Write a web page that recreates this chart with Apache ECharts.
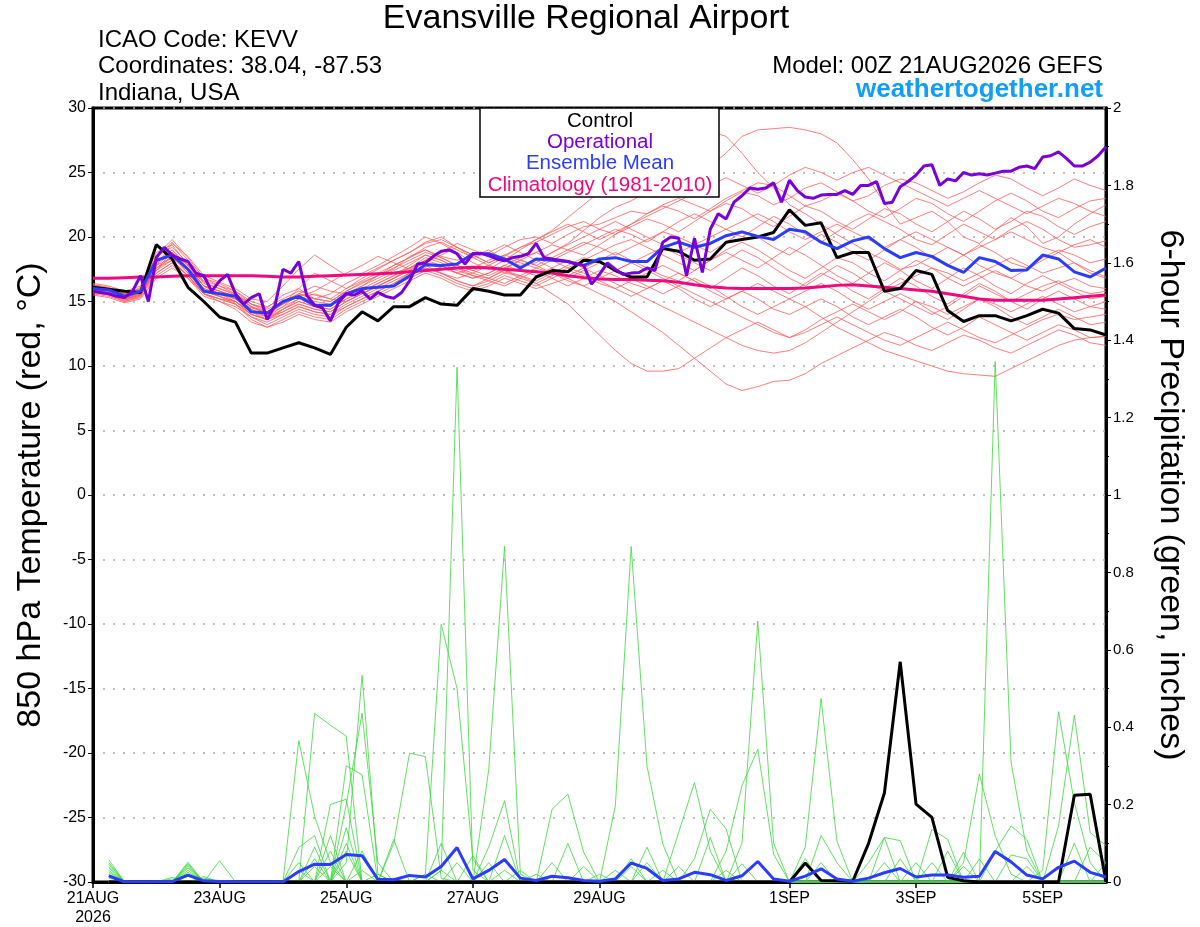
<!DOCTYPE html>
<html>
<head>
<meta charset="utf-8">
<title>Evansville Regional Airport</title>
<script src="https://cdn.jsdelivr.net/npm/echarts@6/dist/echarts.min.js"></script>
<style>
html, body { margin: 0; padding: 0; background: #fff; }
#main { width: 1200px; height: 927px; }
</style>
</head>
<body>
<div id="main"></div>
<script>
var FONT = "'Liberation Sans', Arial, sans-serif";

// x axis: 6-hourly steps from 00Z 21AUG2026
var tickIdx = [0, 8, 16, 24, 32, 44, 52, 60];
var tickLabels = ['21AUG\n2026', '23AUG', '25AUG', '27AUG', '29AUG', '1SEP', '3SEP', '5SEP'];

// 850 hPa temperature (C), 6-hourly, 65 steps
var controlTemp = [16.1,15.95,15.8,15.7,19.4,18.3,16.1,15.0, 13.8,13.4,11.0,11.0,11.4,11.8,11.4,10.9,
  13.0,14.2,13.5,14.6,14.6,15.3,14.8,14.7, 16.0,15.8,15.5,15.5,16.9,17.4,17.3,18.2,
  18.1,17.4,16.9,16.9,19.1,18.9,18.2,18.3, 19.6,19.8,20.0,20.35,22.1,20.9,21.1,18.4,
  18.8,18.8,15.8,16.0,17.4,17.1,14.3,13.45, 13.9,13.9,13.5,13.9,14.4,14.1,12.9,12.8, 12.4];

var meanTemp = [16.0,15.9,15.4,15.8,18.2,18.6,17.5,15.8, 15.6,15.4,14.2,14.1,15.0,15.4,14.7,14.7,
  15.6,16.0,16.1,16.2,17.0,17.85,17.8,17.9, 18.7,18.7,18.3,17.6,18.3,18.2,18.1,17.8,
  18.3,18.4,18.1,18.1,19.2,19.6,19.2,19.5, 20.1,20.4,20.05,19.8,20.6,20.4,19.6,19.1,
  19.7,20.0,19.1,18.4,18.8,18.5,17.8,17.25, 18.4,18.1,17.4,17.45,18.6,18.3,17.3,16.9, 17.6];

var climTemp = [16.8,16.8,16.85,16.9,16.9,16.95,17.0,17.0, 17.0,17.0,17.0,16.95,16.9,16.9,16.95,17.0,
  17.05,17.1,17.15,17.2,17.3,17.4,17.5,17.6, 17.65,17.6,17.5,17.4,17.3,17.2,17.0,16.85,
  16.75,16.7,16.7,16.65,16.6,16.5,16.3,16.15, 16.05,16.0,16.0,16.0,16.0,16.05,16.15,16.25,
  16.3,16.2,16.1,16.0,15.9,15.8,15.6,15.4, 15.2,15.1,15.1,15.1,15.1,15.2,15.3,15.4, 15.5];

// operational run, 3-hourly, 129 steps
var operTemp = [15.8,15.7,15.6,15.4,15.3,15.8,17.0,15.0, 18.4,19.2,18.6,18.3,18.1,17.2,17.0,15.8,
  16.6,17.1,15.6,14.8,15.3,15.6,13.6,14.7, 17.5,17.2,18.1,15.5,14.7,14.5,13.5,14.9,
  15.6,15.5,15.8,15.2,15.7,15.4,15.25,15.7, 16.6,17.9,18.0,18.5,18.9,19.0,18.7,17.9,
  18.7,18.75,18.55,18.3,18.15,18.4,18.5,18.7, 19.5,18.4,18.3,18.2,18.1,17.9,17.8,16.35,
  17.1,18.0,17.5,17.1,17.2,17.25,17.6,17.4, 19.6,20.0,19.9,17.0,19.9,17.25,20.6,21.8,
  21.4,22.7,23.2,23.8,23.7,23.8,24.2,22.7, 24.4,23.6,23.1,23.0,23.25,23.3,23.3,23.6,
  23.3,24.0,24.0,24.3,22.6,22.7,23.9,24.3, 24.8,25.5,25.6,24.0,24.5,24.35,25.0,24.8,
  24.9,24.8,24.95,25.1,25.1,25.4,25.5,25.3, 26.2,26.3,26.6,26.1,25.5,25.5,25.8,26.3, 27.0];

// ensemble members, 6-hourly, 65 steps
var memberTemp = [
  [16.2,16.0,15.6,16.0,18.5,19.2,18.0,16.5, 16.0,15.5,14.8,14.5,15.5,16.0,15.2,15.0, 15.8,16.5,17.0,17.5,18.5,19.0,18.5,18.2, 18.5,19.0,18.2,17.8,18.0,18.8,19.5,20.5, 21.5,22.3,22.8,23.5,24.0,24.6,25.0,25.5, 26.5,27.8,28.3,28.4,28.5,28.3,28.0,27.3, 26.0,24.5,22.6,21.0,21.5,22.0,21.2,20.0, 19.5,20.5,21.5,20.8,19.5,20.0,21.0,21.8, 22.5],
  [15.8,15.6,15.2,15.5,17.8,19.5,18.5,17.0, 16.5,16.0,15.2,15.0,16.2,17.5,18.6,17.8, 17.0,17.2,17.8,18.5,19.2,20.0,19.5,18.8, 18.0,17.5,18.2,19.0,19.8,20.5,21.5,22.5, 23.5,24.5,25.5,26.2,27.0,27.6,28.0,28.2, 27.8,26.5,25.0,23.8,22.5,21.8,21.0,20.2, 19.5,18.8,18.2,17.5,17.8,18.5,19.2,18.6, 17.8,17.2,16.8,17.5,18.2,18.8,18.0,17.2, 16.8],
  [16.0,15.8,15.4,15.6,18.0,19.0,17.6,16.2, 15.8,15.2,14.5,14.2,14.8,15.4,15.8,16.5, 17.2,17.8,18.5,18.0,17.5,18.2,18.8,19.5, 19.0,18.5,19.2,19.8,20.0,19.5,20.2,20.8, 21.0,21.5,22.0,21.8,22.5,23.0,22.5,22.0, 22.8,23.5,23.2,22.5,23.0,23.8,24.2,23.5, 22.8,23.2,24.0,24.5,24.2,23.6,23.0,23.5, 24.2,24.8,24.5,23.8,23.2,23.8,24.5,24.0, 23.6],
  [15.9,15.7,15.3,15.7,17.5,18.8,17.8,16.6, 16.2,15.8,15.0,14.6,15.2,15.8,15.5,15.2, 16.0,16.8,17.5,18.2,18.8,19.5,19.8,19.2, 18.6,18.0,18.5,19.2,19.6,20.2,20.8,21.2, 20.6,20.2,21.0,21.8,22.4,22.0,21.4,22.2, 23.0,23.6,24.2,24.0,23.2,22.4,22.8,23.4, 22.8,22.0,21.5,22.2,23.0,22.6,21.8,21.2, 22.0,22.8,23.4,22.8,22.0,21.5,22.2,22.8, 23.0],
  [16.3,16.1,15.5,16.1,18.2,18.6,17.2,15.8, 15.4,15.0,14.0,13.6,14.4,15.0,14.6,14.4, 15.2,15.8,16.4,17.0,17.8,18.6,18.2,17.6, 17.0,16.8,17.5,18.2,18.8,19.4,19.0,18.6, 19.4,20.2,20.8,21.4,21.0,20.4,21.2,22.0, 22.6,22.2,21.4,20.8,21.6,22.4,22.0,21.2, 20.6,21.4,22.2,21.8,21.0,20.4,21.2,22.0, 21.4,20.6,21.2,22.0,21.6,20.8,20.2,20.8, 21.2],
  [15.7,15.5,15.0,15.4,17.2,18.0,17.0,15.6, 15.2,15.0,14.2,13.8,14.6,15.6,16.2,15.8, 15.6,16.2,17.0,17.8,18.4,19.0,18.4,17.8, 17.4,17.8,18.4,18.0,17.6,18.2,18.8,19.4, 20.0,20.6,20.2,19.6,20.4,21.2,21.8,21.2, 20.6,20.0,20.8,21.6,21.0,20.2,19.6,20.4, 21.2,21.8,21.2,20.6,19.8,19.4,20.2,21.0, 20.4,19.8,20.6,21.2,20.6,19.8,19.2,19.4, 19.7],
  [16.0,15.9,15.6,15.9,18.4,19.6,18.2,16.8, 16.2,15.6,14.6,14.0,14.6,15.2,14.8,14.6, 15.4,16.0,16.6,17.2,17.6,18.0,17.6,17.2, 17.6,18.2,18.6,18.2,17.8,18.4,19.0,19.6, 19.2,18.6,19.2,19.8,20.4,20.0,19.4,18.8, 19.6,20.4,20.0,19.2,18.6,19.4,20.2,19.6, 18.8,18.2,19.0,19.8,19.2,18.4,17.8,18.6, 19.4,18.8,18.0,17.6,18.4,19.0,18.6,18.0, 18.3],
  [16.1,15.8,15.2,15.6,17.6,18.4,17.4,16.0, 15.6,15.2,14.4,13.8,14.2,14.8,14.4,14.2, 15.0,15.6,16.2,16.8,17.4,18.0,17.8,17.2, 16.8,17.2,17.8,18.4,18.8,18.2,17.6,18.2, 18.8,19.4,19.8,19.2,18.6,18.0,17.4,18.2, 19.0,19.6,19.0,18.2,17.4,16.8,17.6,18.4, 18.0,17.2,16.6,17.4,18.2,17.6,16.8,16.2, 16.8,17.4,16.8,16.2,15.8,16.4,16.8,16.2, 16.0],
  [15.6,15.4,15.0,15.3,17.0,17.8,16.8,15.4, 15.0,14.6,13.8,13.4,14.0,14.6,14.2,14.0, 14.8,15.4,16.0,16.6,17.2,17.6,17.2,16.6, 16.2,16.6,17.2,17.0,16.6,17.2,17.8,18.4, 18.0,17.4,18.0,18.6,19.2,18.6,18.0,17.4, 18.2,19.0,18.4,17.6,16.8,16.2,17.0,17.8, 17.2,16.4,15.8,15.2,14.6,14.0,14.6,15.4, 16.2,15.6,15.0,15.6,16.2,16.6,16.0,15.6, 15.8],
  [16.4,16.2,15.8,16.2,18.8,19.4,17.8,16.2, 15.8,15.4,14.6,14.2,15.0,15.6,15.2,15.6, 16.4,17.0,17.6,18.2,18.8,19.6,20.0,19.2, 18.4,17.8,17.2,17.6,18.2,17.6,17.0,17.6, 18.2,18.8,18.2,17.6,17.0,16.6,17.4,18.2, 18.8,18.2,17.6,18.4,19.2,18.6,17.8,17.0, 16.4,17.2,18.0,17.4,16.6,16.0,16.8,17.6, 17.0,16.2,15.6,16.4,17.0,16.4,15.8,15.2, 15.4],
  [15.8,15.6,15.2,15.5,17.4,18.2,17.0,15.6, 15.0,14.4,13.4,13.0,13.6,14.2,13.8,13.6, 14.4,15.0,15.6,16.2,16.8,17.4,17.0,16.4, 16.0,16.4,17.0,16.6,16.2,16.8,17.4,17.0, 16.4,16.0,16.6,17.2,17.8,17.2,16.6,16.0, 16.8,17.6,17.0,16.2,15.6,16.4,17.2,16.6, 15.8,15.2,16.0,16.8,16.2,15.4,14.8,15.6, 16.4,15.8,15.0,14.4,15.2,15.8,15.2,14.6, 14.4],
  [16.0,15.7,15.1,15.4,17.8,18.8,17.6,16.2, 15.6,15.0,14.0,13.6,14.4,15.2,15.6,15.2, 15.0,15.6,16.2,16.8,17.6,18.4,18.0,17.4, 17.0,16.6,16.2,16.8,17.4,16.8,16.2,16.8, 17.4,17.0,16.4,16.0,16.6,17.2,16.6,15.8, 15.2,15.8,16.4,15.8,15.2,15.8,16.4,15.8, 15.0,14.4,15.0,15.6,15.0,14.2,13.6,14.4, 15.2,14.6,13.8,13.2,13.8,14.4,13.8,13.2, 13.4],
  [15.5,15.3,14.9,15.2,16.8,17.6,16.8,15.6, 15.2,14.8,13.8,13.2,13.8,14.4,14.0,13.8, 14.6,15.2,15.8,16.4,17.0,17.6,17.2,16.8, 17.2,17.8,17.4,16.8,16.4,17.0,17.6,17.2, 16.6,16.0,15.4,16.0,16.6,16.0,15.2,14.6, 15.2,15.8,15.2,14.4,14.0,14.6,15.2,14.6, 13.8,13.2,13.8,14.4,13.8,13.0,12.4,13.0, 13.8,13.2,12.6,12.0,12.6,13.2,12.8,12.2, 12.3],
  [16.2,16.0,15.6,15.8,17.8,18.4,17.2,15.8, 15.4,15.0,14.2,13.6,14.0,14.6,14.2,14.0, 14.6,15.2,15.8,16.4,17.2,17.8,17.2,16.6, 16.2,16.8,17.4,17.0,16.4,15.6,14.8,13.6, 12.4,11.2,10.2,9.6,9.6,9.8,10.6,11.4, 12.2,12.8,13.4,12.8,12.2,12.8,13.6,14.2, 14.8,14.2,13.6,14.2,15.0,14.6,14.0,14.6, 15.2,14.8,14.2,14.8,15.4,14.8,14.2,14.6, 15.0],
  [15.9,15.7,15.3,15.6,17.2,18.0,17.0,15.8, 15.4,14.8,13.6,13.0,13.4,14.0,13.6,13.4, 14.2,14.8,15.4,16.0,16.6,17.2,16.8,16.2, 15.8,16.2,16.8,16.4,16.0,16.4,16.8,16.2, 15.6,15.0,14.2,13.4,12.6,11.6,10.6,9.6, 8.6,8.1,8.4,8.8,8.9,9.4,10.2,10.8, 11.4,12.0,12.6,12.2,11.6,11.2,11.8,12.4, 12.0,11.4,11.0,11.6,12.2,12.8,12.4,11.8, 11.6],
  [16.1,15.9,15.4,15.7,18.0,19.0,17.8,16.4, 16.0,15.6,14.8,14.4,15.0,15.6,15.2,15.0, 15.8,16.4,17.0,17.6,18.2,18.8,18.4,17.8, 17.4,17.0,17.6,18.2,17.8,17.2,16.8,17.4, 18.0,17.4,16.8,16.2,15.6,16.2,16.8,16.2, 15.4,14.6,14.0,14.6,15.2,14.6,13.8,13.0, 12.4,11.8,11.2,10.8,10.4,10.0,9.6,9.4, 9.3,9.2,9.8,10.4,11.0,11.6,12.0,12.2, 12.3],
  [15.7,15.5,15.1,15.5,17.4,18.6,17.4,16.0, 15.6,15.2,14.4,13.8,14.4,15.0,14.6,14.4, 15.2,15.8,16.4,17.0,17.6,18.2,17.8,17.2, 16.8,17.2,17.8,17.4,17.0,17.6,18.2,17.6, 17.0,16.4,15.8,15.2,14.6,14.0,13.4,12.8, 12.2,11.6,11.2,11.0,11.2,11.8,12.6,13.4, 14.2,15.0,15.8,16.4,17.0,17.6,17.2,16.6, 17.2,17.8,18.4,17.8,17.2,17.6,18.0,17.4, 16.9],
  [16.3,16.0,15.5,15.9,18.6,19.8,18.4,16.8, 16.4,15.8,14.8,14.2,14.8,15.4,15.0,14.8, 15.6,16.2,16.8,17.4,18.0,18.6,18.2,17.6, 17.2,16.8,16.4,17.0,17.6,17.2,16.6,16.2, 16.8,17.4,18.0,17.4,16.8,16.2,15.6,15.0, 14.4,13.8,13.2,12.6,12.2,12.6,13.2,13.8, 13.2,12.6,12.0,11.6,12.2,12.8,13.4,12.8, 12.2,11.8,12.4,13.0,13.6,14.0,13.6,13.8, 14.0],
  [15.8,15.6,15.2,15.6,17.6,18.2,17.0,15.6, 15.2,14.8,14.0,13.6,14.2,14.8,14.4,14.2, 15.0,15.6,16.2,16.8,17.4,18.0,18.6,19.2, 18.6,18.0,18.6,19.2,19.8,20.4,21.0,20.4, 19.8,20.4,21.0,21.6,22.2,22.8,23.4,24.0, 24.6,24.0,23.4,24.0,24.8,25.4,25.0,24.4, 25.0,25.4,24.8,24.2,23.6,23.0,22.4,23.0, 23.6,23.0,22.4,21.8,22.4,23.0,22.6,22.0, 21.6],
  [16.0,15.8,15.3,15.8,18.0,18.8,17.6,16.2, 15.8,15.4,14.6,14.0,14.8,16.0,17.2,16.6, 16.0,16.6,17.2,17.8,18.4,19.2,19.6,19.0, 18.4,18.8,19.4,18.8,18.2,18.8,19.4,20.0, 20.6,21.2,20.6,20.0,19.4,18.8,19.4,20.0, 20.6,21.2,21.8,21.2,20.4,19.8,20.4,21.0, 20.4,19.8,19.2,19.8,20.4,19.8,19.2,18.6, 19.2,19.8,20.4,19.8,19.2,18.8,19.4,19.8, 19.2]
];

// 6-hour precipitation (inches), steps 1..64
var controlPrcp = [0,0,0,0,0,0,0,0, 0,0,0,0,0,0,0,0, 0,0,0,0,0,0,0,0, 0,0,0,0,0,0,0,0,
  0,0,0,0,0,0,0,0, 0,0,0,0,.049,.004,.003,.002, .1,.23,.569,.201,.167,.012,.003,0, 0,0,0,0,0,.224,.227,0];

var meanPrcp = [.016,0,0,0,.001,.018,.003,.001, 0,0,0,0,.027,.046,.045,.071, .068,.007,.006,.017,.013,.04,.089,.008,
  .03,.058,.01,.004,.015,.011,.004,.002, .008,.049,.035,.004,.008,.025,.019,.004, .016,.053,.008,.002,.015,.034,.008,.002,
  .01,.024,.035,.013,.018,.018,.012,.015, .079,.052,.018,.008,.038,.054,.025,.013];

var memberPrcp = [
  [.057,0,0,0,0,.051,0,0, 0,0,0,0,0,0,.04,0, 0,0,0,0,0,.1,0,0, 0,0,0,0,0,0,0,0, .03,0,0,0,0,0,0,0, 0,0,0,0,0,0,0,0, 0,.115,.107,0,0,0,0,0, 0,0,0,0,0,0,0,0],
  [.05,0,0,0,0,.047,0,0, 0,0,0,0,0,.04,0,0, 0,.02,0,0,0,0,0,0, 0,.03,0,0,0,0,0,0, 0,.06,0,0,0,0,0,0, 0,0,0,0,0,0,0,0, 0,.05,0,0,0,0,0,0, 0,0,0,0,0,0,0,0],
  [.046,0,0,0,.012,0,0,0, 0,0,0,0,.05,0,0,0, 0,0,.01,0,0,0,0,0, 0,0,0,0,0,0,0,0, 0,0,.09,0,0,0,0,0, 0,0,0,0,0,0,0,0, 0,0,.06,0,0,0,0,0, 0,0,0,0,0,0,0,0],
  [.04,0,0,0,0,.043,0,0, 0,0,0,0,0,0,0,.2, .436,.05,0,0,0,0,0,0, 0,0,0,0,0,0,0,0, 0,0,0,.03,0,0,0,0, 0,0,0,0,0,0,0,0, 0,0,0,.05,0,0,0,0, 0,0,0,0,0,0,0,0],
  [.036,0,0,0,0,.04,0,0, 0,0,0,0,0,.09,0,0, 0,0,0,0,0,0,0,0, 0,0,0,.02,0,0,0,0, 0,0,0,0,.04,0,0,0, 0,0,0,0,0,0,0,0, 0,0,0,0,.136,.11,0,0, 0,0,0,0,0,0,0,0],
  [.03,0,0,0,0,.036,0,0, 0,0,0,0,0,0,.12,0, 0,0,.11,0,0,0,0,0, .05,0,0,0,0,0,0,0, 0,0,0,0,0,0,.115,0, 0,0,0,0,0,0,0,0, 0,0,0,0,.05,0,.077,0, 0,0,0,0,0,0,0,0],
  [.025,0,0,0,.008,0,0,0, 0,0,0,0,.03,0,0,0, 0,0,.1,.333,.324,.01,0,0, 0,0,0,0,0,0,0,0, 0,0,0,0,0,0,0,.03, 0,0,0,0,0,0,0,0, 0,0,0,0,0,.08,0,0, 0,0,0,0,0,0,0,0],
  [.02,0,0,0,0,.03,0,0, 0,0,0,0,0,.06,0,0, 0,0,0,0,.02,.666,.5,.06, 0,0,0,0,0,0,0,0, 0,0,0,0,0,0,0,0, .047,0,0,0,0,0,0,0, 0,0,0,0,0,0,.04,0, 0,0,0,0,0,0,0,0],
  [.015,0,0,0,0,.025,0,0, 0,0,0,0,0,0,0,.14, 0,0,0,0,0,.03,0,0, 0,0,0,0,0,0,0,0, 0,.04,0,0,0,0,0,0, 0,0,0,0,.06,0,0,0, 0,0,0,0,0,0,.05,.279, .119,.02,0,0,0,0,0,0],
  [.01,0,0,0,0,0,.014,0, 0,0,0,0,0,0,.08,0, 0,0,0,0,0,.03,1.33,.03, 0,0,0,0,0,0,0,0, 0,0,.05,0,0,0,0,0, 0,0,0,0,0,.05,0,0, 0,0,0,0,0,0,0,.06, 0,0,0,0,0,0,0,0],
  [0,0,0,0,0,.02,0,0, 0,0,0,0,0,0,0,.1, 0,0,0,0,0,0,.05,0, .29,.867,.02,0,0,0,0,0, 0,0,0,0,0,0,0,0, 0,0,0,0,0,0,0,0, 0,0,0,0,0,0,0,0, 1.345,.31,.08,0,0,0,0,0],
  [0,0,0,0,0,.015,0,0, 0,0,0,0,0,0,0,.08, 0,0,0,0,.02,0,0,0, 0,0,0,0,.188,.227,.077,0, 0,0,0,0,0,0,0,0, 0,0,0,0,0,0,0,0, 0,0,0,0,0,0,0,0, .08,.145,.11,0,0,0,0,0],
  [0,0,0,0,0,0,.01,0, 0,0,0,0,0,0,0,0, .08,0,0,0,0,0,0,.068, 0,0,0,0,0,0,0,0, .197,.867,.3,.098,0,0,0,0, 0,0,0,0,0,0,0,0, 0,0,0,0,0,0,0,0, 0,.07,.06,0,0,0,0,0],
  [0,0,0,0,0,0,0,.055, 0,0,0,0,0,0,0,0, .03,0,0,0,0,0,0,0, .09,.21,0,0,0,0,0,0, 0,0,0,0,.128,.257,.08,0, 0,0,0,0,0,0,0,0, 0,0,0,0,0,0,0,0, 0,0,.04,0,0,0,0,0],
  [0,0,0,0,0,0,0,0, 0,0,0,0,.365,.17,.05,0, 0,0,0,0,0,0,0,0, 0,.12,0,0,0,0,0,0, 0,0,0,0,0,.06,.188,.137, 0,0,0,0,0,0,0,0, 0,0,0,0,0,0,0,0, 0,0,0,.03,.44,.205,.05,0],
  [0,0,0,0,0,0,0,0, 0,0,0,0,.089,.12,0,0, 0,0,0,0,0,0,0,0, 0,0,.03,0,0,0,0,0, 0,0,0,0,0,0,0,0, .1,.674,.1,0,0,0,0,0, 0,0,0,0,0,0,0,0, 0,0,0,0,0,.1,0,0],
  [0,0,0,0,0,0,0,0, 0,0,0,0,0,.436,.405,.377, 0,0,0,0,0,0,0,0, 0,0,0,0,.05,0,0,0, 0,0,0,0,0,0,0,.08, .249,.343,.072,0,0,0,0,0, 0,0,0,0,0,0,0,0, 0,0,0,0,.145,.431,.128,.094],
  [0,0,0,0,0,0,0,0, 0,0,0,0,0,0,.2,.214, 0,0,0,0,0,0,0,0, 0,0,0,0,0,.1,0,0, 0,0,0,0,0,0,0,0, 0,0,0,0,.09,.474,.106,0, 0,0,0,0,0,0,0,0, 0,0,0,0,0,0,.09,.05],
  [0,0,0,0,0,0,0,0, 0,0,0,0,0,0,0,.3, .277,0,0,0,0,0,0,0, 0,0,0,0,0,0,.04,0, 0,0,0,0,0,0,0,0, 0,0,0,0,0,.12,.05,0, 0,0,0,0,0,0,0,0, 0,0,0,0,0,0,0,.05],
  [0,0,0,0,0,0,0,0, 0,0,0,0,0,0,0,.05, .534,.02,0,0,0,0,0,0, 0,0,0,0,0,0,0,.02, 0,0,0,0,0,0,0,0, 0,0,0,0,0,0,0,0, .05,.115,0,0,0,0,0,0, 0,0,0,0,0,0,0,0]
];

function pairs(arr, start, step) {
  return arr.map(function (v, k) { return [start + k * step, v]; });
}

function line(data, color, width, yIdx, z) {
  return {
    type: 'line', data: data, yAxisIndex: yIdx, symbol: 'none', z: z,
    lineStyle: { color: color, width: width }, silent: true
  };
}

var series = [];
memberTemp.forEach(function (m) { series.push(line(pairs(m, 0, 1), '#ff5c5c', 0.8, 0, 2)); });
memberPrcp.forEach(function (m) { series.push(line(pairs(m, 1, 1), '#3ad83a', 0.8, 1, 2)); });
series.push(line(pairs(climTemp, 0, 1), '#f0087e', 3, 0, 3));
series.push(line(pairs(controlPrcp, 1, 1), '#000000', 3, 1, 3));
series.push(line(pairs(meanPrcp, 1, 1), '#2a3cff', 3, 1, 4));
series.push(line(pairs(controlTemp, 0, 1), '#000000', 3, 0, 4));
series.push(line(pairs(meanTemp, 0, 1), '#2a3cff', 3, 0, 5));
series.push(line(pairs(operTemp, 0, 0.5), '#7a00d8', 3, 0, 6));

var chart = echarts.init(document.getElementById('main'));

var option = {
  animation: false,
  backgroundColor: '#fff',
  textStyle: { fontFamily: FONT },
  grid: { left: 93, right: 94, top: 108, bottom: 44, show: true, borderColor: '#000', borderWidth: 3 },
  xAxis: {
    type: 'value', min: 0, max: 64,
    axisLine: { onZero: false, lineStyle: { color: '#000', width: 3 } },
    axisTick: { show: true, customValues: tickIdx, length: 6, lineStyle: { color: '#000', width: 1.5 } },
    axisLabel: {
      customValues: tickIdx, color: '#000', fontSize: 16, fontFamily: FONT, margin: 7, lineHeight: 19,
      formatter: function (v) { var k = tickIdx.indexOf(v); return k >= 0 ? tickLabels[k] : ''; }
    },
    splitLine: { show: false }
  },
  yAxis: [
    {
      type: 'value', min: -30, max: 30, interval: 5, position: 'left',
      name: '850 hPa Temperature (red, \u00B0C)', nameLocation: 'middle', nameGap: 45,
      nameTextStyle: { fontSize: 34, color: '#000', fontFamily: FONT },
      axisLine: { show: true, onZero: false, lineStyle: { color: '#000', width: 3 } },
      axisTick: { show: true, length: 5, lineStyle: { color: '#000' } },
      axisLabel: { color: '#000', fontSize: 16, fontFamily: FONT, margin: 7 },
      splitLine: { show: true, lineStyle: { color: '#aaaaaa', width: 1.5, type: [2, 8] } }
    },
    {
      type: 'value', min: 0, max: 2, interval: 0.2, position: 'right',
      name: '6-hour Precipitation (green, inches)', nameLocation: 'middle', nameGap: 47, nameRotate: -90,
      nameTextStyle: { fontSize: 34, color: '#000', fontFamily: FONT },
      axisLine: { show: true, onZero: false, lineStyle: { color: '#000', width: 3 } },
      axisTick: { show: true, length: 5, lineStyle: { color: '#000' } },
      minorTick: { show: true, splitNumber: 2, length: 3, lineStyle: { color: '#000' } },
      axisLabel: {
        color: '#000', fontSize: 15, fontFamily: FONT, margin: 7,
        formatter: function (v) { return String(+v.toFixed(1)); }
      },
      splitLine: { show: false }
    }
  ],
  graphic: [
    { type: 'text', x: 586, y: 19, z: 100,
      style: { text: 'Evansville Regional Airport', fontSize: 34, fontFamily: FONT, fill: '#000', align: 'center', verticalAlign: 'middle' } },
    { type: 'text', x: 98, y: 40, z: 100,
      style: { text: 'ICAO Code: KEVV', fontSize: 24, fontFamily: FONT, fill: '#000', verticalAlign: 'middle' } },
    { type: 'text', x: 98, y: 66, z: 100,
      style: { text: 'Coordinates: 38.04, -87.53', fontSize: 24, fontFamily: FONT, fill: '#000', verticalAlign: 'middle' } },
    { type: 'text', x: 98, y: 93, z: 100,
      style: { text: 'Indiana, USA', fontSize: 24, fontFamily: FONT, fill: '#000', verticalAlign: 'middle' } },
    { type: 'text', x: 1103, y: 66, z: 100,
      style: { text: 'Model: 00Z 21AUG2026 GEFS', fontSize: 24, fontFamily: FONT, fill: '#000', align: 'right', verticalAlign: 'middle' } },
    { type: 'text', x: 1103, y: 90, z: 100,
      style: { text: 'weathertogether.net', fontSize: 26, fontWeight: 'bold', fontFamily: FONT, fill: '#129ef5', align: 'right', verticalAlign: 'middle' } },
    { type: 'rect', shape: { x: 480, y: 108, width: 239, height: 89 }, z: 100,
      style: { fill: '#fff', stroke: '#000', lineWidth: 1.5 } },
    { type: 'text', x: 600, y: 121, z: 101,
      style: { text: 'Control', fontSize: 20.5, fontFamily: FONT, fill: '#000', align: 'center', verticalAlign: 'middle' } },
    { type: 'text', x: 600, y: 142, z: 101,
      style: { text: 'Operational', fontSize: 20.5, fontFamily: FONT, fill: '#7a00d8', align: 'center', verticalAlign: 'middle' } },
    { type: 'text', x: 600, y: 163, z: 101,
      style: { text: 'Ensemble Mean', fontSize: 20.5, fontFamily: FONT, fill: '#2a3cff', align: 'center', verticalAlign: 'middle' } },
    { type: 'text', x: 600, y: 185, z: 101,
      style: { text: 'Climatology (1981-2010)', fontSize: 20.5, fontFamily: FONT, fill: '#f0087e', align: 'center', verticalAlign: 'middle' } }
  ],
  series: series
};

chart.setOption(option);
</script>
</body>
</html>
